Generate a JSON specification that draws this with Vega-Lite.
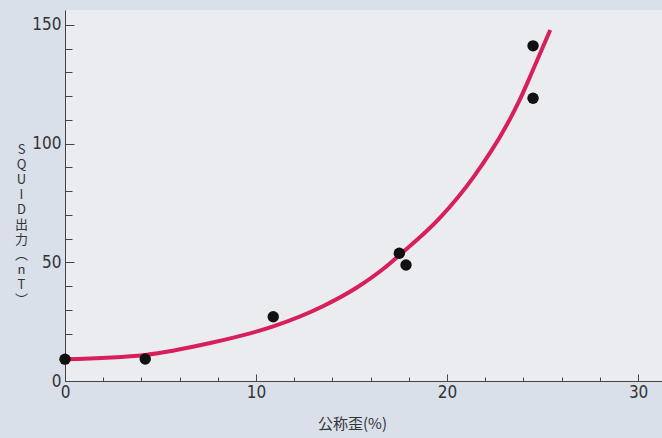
{
  "$schema": "https://vega.github.io/schema/vega-lite/v6.json",
  "width": 597,
  "height": 371,
  "autosize": {"type": "none"},
  "padding": {"left": 65, "top": 10, "right": 0, "bottom": 57},
  "background": "#d9e0ea",
  "config": {
    "view": {"fill": "#eaecf0", "stroke": null},
    "axis": {
      "domainColor": "#444",
      "tickColor": "#444",
      "labelColor": "#333",
      "titleColor": "#333",
      "labelFont": "DejaVu Sans Condensed, Liberation Sans Narrow, Liberation Sans, sans-serif",
      "labelFontSize": 17,
      "grid": false,
      "titleFontWeight": "normal"
    }
  },
  "datasets": {
    "pts": [
      {"strain": 0, "output": 9.2},
      {"strain": 4.2, "output": 9.3},
      {"strain": 10.9, "output": 27.1},
      {"strain": 17.5, "output": 53.8},
      {"strain": 17.85, "output": 48.9},
      {"strain": 24.5, "output": 141.2},
      {"strain": 24.5, "output": 119.1}
    ],
    "curve": [
      {"strain": 0, "output": 9.2},
      {"strain": 4.2, "output": 11.0},
      {"strain": 7.6, "output": 16.0},
      {"strain": 10.9, "output": 23.0},
      {"strain": 13.5, "output": 31.5},
      {"strain": 15.3, "output": 39.5},
      {"strain": 16.7, "output": 47.5},
      {"strain": 17.5, "output": 53.0},
      {"strain": 19.6, "output": 68.5},
      {"strain": 21.4, "output": 86.1},
      {"strain": 23.1, "output": 107.5},
      {"strain": 23.8, "output": 118.4},
      {"strain": 24.5, "output": 131.1},
      {"strain": 25.4, "output": 147.9}
    ]
  },
  "encoding": {
    "x": {
      "field": "strain",
      "type": "quantitative",
      "scale": {"domain": [0, 31.25], "nice": false, "zero": false},
      "axis": {
        "title": "公称歪(%)",
        "titleFont": "Noto Sans CJK JP",
        "titleFontSize": 15,
        "titleX": 287,
        "titleY": 47,
        "titleBaseline": "alphabetic",
        "values": [0, 2, 4, 6, 8, 10, 12, 14, 16, 18, 20, 22, 24, 26, 28, 30],
        "labelExpr": "datum.value % 10 === 0 ? datum.label : ''",
        "tickSize": {"expr": "datum.value % 10 === 0 ? -7 : -4"},
        "labelPadding": 10,
        "labelFlush": false,
        "labelOverlap": false
      }
    },
    "y": {
      "field": "output",
      "type": "quantitative",
      "scale": {"domain": [0, 156.3], "nice": false},
      "axis": {
        "title": ["S", "Q", "U", "I", "D", "出", "力", "︵", "n", "T", "︶"],
        "titleFont": "Noto Sans CJK JP",
        "titleFontSize": 13,
        "titleLineHeight": 15,
        "titleAngle": 0,
        "titleAlign": "center",
        "titleBaseline": "top",
        "titleX": -44,
        "titleY": 133,
        "values": [0, 10, 20, 30, 40, 50, 60, 70, 80, 90, 100, 110, 120, 130, 140, 150],
        "labelExpr": "datum.value % 50 === 0 ? datum.label : ''",
        "tickSize": {"expr": "datum.value % 50 === 0 ? -9 : -7"},
        "labelPadding": 13,
        "labelFlush": false,
        "labelOverlap": false
      }
    }
  },
  "layer": [
    {
      "data": {"name": "curve"},
      "mark": {"type": "line", "interpolate": "monotone", "color": "#d81e5b", "strokeWidth": 4}
    },
    {
      "data": {"name": "pts"},
      "mark": {"type": "circle", "color": "#111111", "opacity": 1, "size": 130}
    }
  ]
}
